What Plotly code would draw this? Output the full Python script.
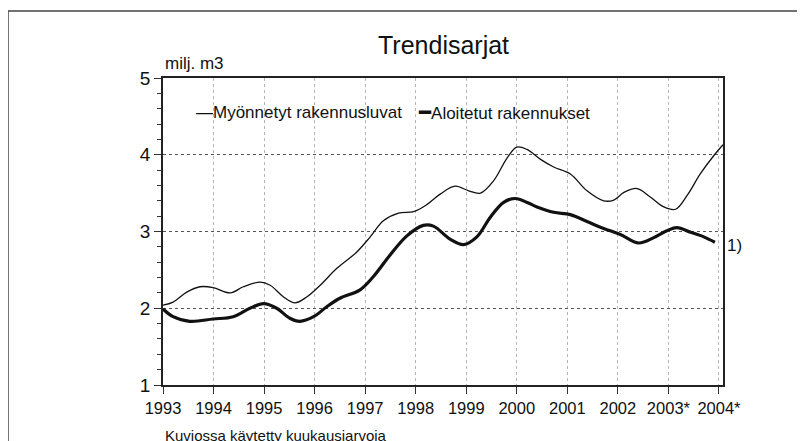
import plotly.graph_objects as go

# --- data ---
myon_x = [1993.00, 1993.20, 1993.47, 1993.73, 1993.99, 1994.33, 1994.59, 1994.92, 1995.12,
          1995.38, 1995.61, 1995.85, 1996.11, 1996.44, 1996.83, 1997.10, 1997.36, 1997.66,
          1997.96, 1998.22, 1998.49, 1998.78, 1999.05, 1999.28, 1999.54, 1999.81, 2000.00,
          2000.20, 2000.47, 2000.73, 2001.06, 2001.39, 2001.72, 2001.92, 2002.12, 2002.38,
          2002.64, 2002.91, 2003.14, 2003.37, 2003.63, 2003.90, 2004.08]
myon_y = [2.04, 2.08, 2.21, 2.28, 2.27, 2.20, 2.28, 2.34, 2.30,
          2.15, 2.07, 2.15, 2.30, 2.52, 2.73, 2.93, 3.14, 3.24,
          3.26, 3.35, 3.49, 3.59, 3.53, 3.50, 3.66, 3.96, 4.10,
          4.07, 3.94, 3.84, 3.75, 3.53, 3.40, 3.41, 3.51, 3.56,
          3.45, 3.32, 3.29, 3.47, 3.75, 3.99, 4.13]

aloi_x = [1993.00, 1993.20, 1993.53, 1993.99, 1994.39, 1994.72, 1994.99, 1995.25, 1995.51,
          1995.71, 1995.98, 1996.24, 1996.50, 1996.90, 1997.16, 1997.49, 1997.82, 1998.15,
          1998.35, 1998.68, 1998.95, 1999.21, 1999.48, 1999.74, 1999.97, 2000.23, 2000.40,
          2000.73, 2001.06, 2001.39, 2001.72, 2002.05, 2002.41, 2002.71, 2002.97, 2003.17,
          2003.44, 2003.70, 2003.92]
aloi_y = [1.99, 1.89, 1.83, 1.86, 1.89, 2.00, 2.06, 2.00, 1.87,
          1.83, 1.89, 2.02, 2.13, 2.24, 2.41, 2.69, 2.94, 3.08,
          3.07, 2.90, 2.83, 2.93, 3.19, 3.38, 3.43, 3.37, 3.32,
          3.25, 3.22, 3.13, 3.04, 2.96, 2.85, 2.92, 3.01, 3.05,
          2.99, 2.93, 2.86]

tick_vals = list(range(1993, 2005))
tick_text = ["1993", "1994", "1995", "1996", "1997", "1998", "1999", "2000",
             "2001", "2002", "2003*", "2004*"]

FONT = "Liberation Sans, Arial, sans-serif"
INK = "#111111"

fig = go.Figure()
fig.add_trace(go.Scatter(x=myon_x, y=myon_y, mode="lines", name="Myönnetyt rakennusluvat",
                         line=dict(color=INK, width=1.3, shape="spline", smoothing=1.0)))
fig.add_trace(go.Scatter(x=aloi_x, y=aloi_y, mode="lines", name="Aloitetut rakennukset",
                         line=dict(color=INK, width=3.2, shape="spline", smoothing=1.0)))

# the page body adds an 8px offset, so margins are reduced accordingly
fig.update_layout(
    width=805, height=441,
    margin=dict(l=155, r=90, t=70, b=64),
    paper_bgcolor="white", plot_bgcolor="white",
    showlegend=False,
    font=dict(family=FONT, color=INK, size=17),
)
fig.update_xaxes(
    range=[1993, 2004.08], tickvals=tick_vals, ticktext=tick_text, tickangle=0,
    ticks="outside", ticklen=7, tickcolor="#333", tickwidth=1,
    showline=True, linecolor="#222", linewidth=1.5, mirror=True,
    showgrid=True, gridcolor="#b5b5b5", griddash="dot", gridwidth=1,
    zeroline=False, tickfont=dict(size=16.5, family=FONT),
)
fig.update_yaxes(
    range=[1, 5], tickvals=[1, 2, 3, 4, 5],
    ticks="outside", ticklen=7, tickcolor="#333", tickwidth=1,
    minor=dict(dtick=0.2, ticks="outside", ticklen=4, tickcolor="#333", showgrid=False),
    showline=True, linecolor="#222", linewidth=1.5, mirror=True,
    showgrid=True, gridcolor="#555555", griddash="dot", gridwidth=1,
    zeroline=False, tickfont=dict(size=19, family=FONT),
)

ann = [
    dict(text="Trendisarjat", x=0.5, y=1.109, xanchor="center", yanchor="middle",
         font=dict(size=25)),
    dict(text="milj. m3", x=0.0, y=1.046, xanchor="left", yanchor="middle",
         font=dict(size=17)),
    dict(text="—Myönnetyt rakennusluvat", x=0.0554, y=0.889, xanchor="left", yanchor="middle",
         font=dict(size=17)),
    dict(text="<span style='font-family:DejaVu Sans;font-size:20px'>━</span>Aloitetut rakennukset",
         x=0.4518, y=0.889, xanchor="left", yanchor="middle",
         font=dict(size=17)),
    dict(text="1)", x=1.0036, y=0.456, xanchor="left", yanchor="middle",
         font=dict(size=17)),
    dict(text="Kuviossa käytetty kuukausiarvoja", x=0.0, y=-0.163, xanchor="left",
         yanchor="middle", font=dict(size=15)),
]
for a in ann:
    a.update(xref="paper", yref="paper", showarrow=False)
    a["font"]["family"] = FONT
    a["font"]["color"] = INK
fig.update_layout(annotations=ann)

fig.add_shape(type="rect", xref="paper", yref="paper",
              x0=-0.2768, x1=1.17, y0=-0.3, y1=1.218,
              line=dict(color="#444", width=1.5), fillcolor="rgba(0,0,0,0)", layer="below")

fig.write_html("out.html")
